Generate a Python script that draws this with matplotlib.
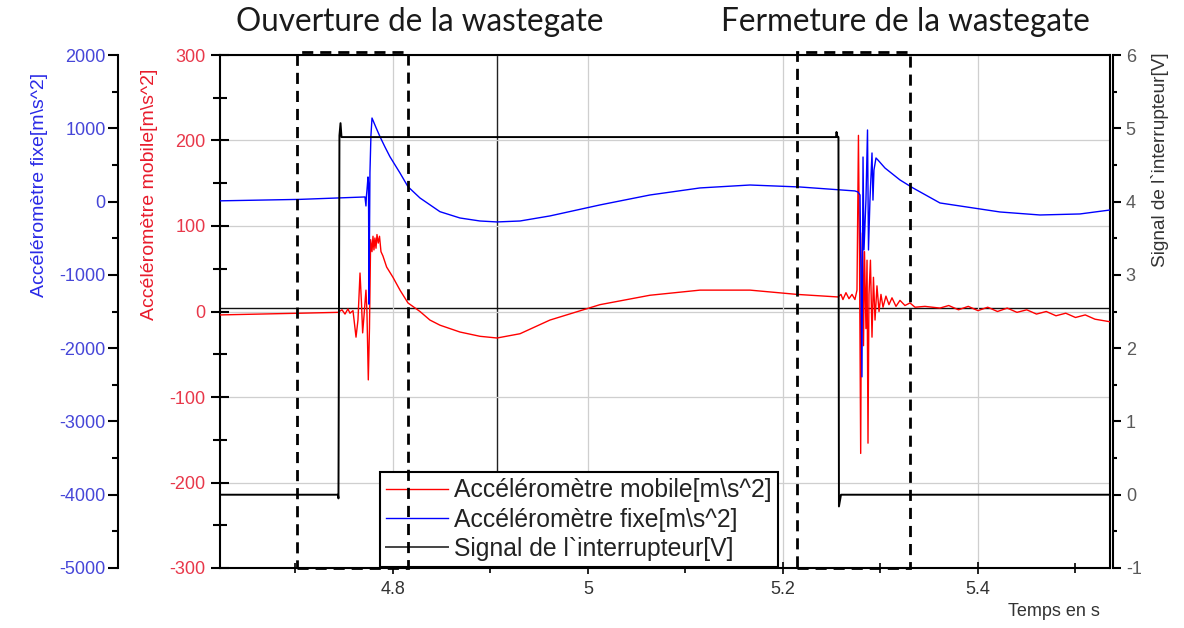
import numpy as np
import matplotlib.pyplot as plt
from matplotlib.patches import Rectangle
from matplotlib.ticker import MultipleLocator
from matplotlib.lines import Line2D

plt.rcParams['axes.unicode_minus'] = False

# -----------------------------
# Data
# -----------------------------
# mobile accelerometer [m/s^2] (red, left inner axis)
t_mobile = [4.6226, 4.6636, 4.7046, 4.7436, 4.7477, 4.7508, 4.7538, 4.7559, 4.7590,
            4.7621, 4.7641, 4.7662, 4.7677, 4.7689, 4.7703, 4.7723, 4.7733, 4.7747,
            4.7759, 4.7771, 4.7785, 4.7795, 4.7805, 4.7815, 4.7826, 4.7836, 4.7849,
            4.7862, 4.7877, 4.7897, 4.7935, 4.8000, 4.8072, 4.8154, 4.8277, 4.8379,
            4.8482, 4.8687, 4.8892, 4.9067, 4.9303, 4.9610, 5.0123, 5.0636, 5.1149,
            5.1662, 5.2144, 5.2564, 5.2595, 5.2615, 5.2646, 5.2677, 5.2708, 5.2738,
            5.2759, 5.2774, 5.2785, 5.2797, 5.2805, 5.2815, 5.2826, 5.2836, 5.2851,
            5.2862, 5.2872, 5.2882, 5.2897, 5.2913, 5.2928, 5.2944, 5.2964, 5.2985,
            5.3005, 5.3026, 5.3056, 5.3087, 5.3118, 5.3159, 5.3200, 5.3251, 5.3303,
            5.3354, 5.3456, 5.3610, 5.3700, 5.3800, 5.3900, 5.4000, 5.4100, 5.4200,
            5.4300, 5.4400, 5.4500, 5.4600, 5.4700, 5.4800, 5.4900, 5.5000, 5.5100,
            5.5200, 5.5354]
a_mobile = [-4, -3, -2, -1, 2, -3, 3, -2, 1,
            -30, -10, 45, 10, -25, -5, 25, 0, -80,
            -20, 84, 70, 88, 72, 86, 74, 90, 80,
            88, 70, 65, 52, 40, 25, 10, 0, -10,
            -16, -24, -29, -31, -26, -10, 8, 19, 25,
            25, 20, 17, 20, 14, 22, 15, 20, 14,
            25, 206, 60, -166, 40, 92, -40, 70, -20,
            60, -154, 20, 60, -30, 40, -10, 30, 0,
            20, 5, 18, 8, 16, 6, 13, 7, 10,
            5, 6, 4, 7, 2, 6, 1, 5, 0,
            4, -1, 2, -3, 0, -5, -2, -7, -4,
            -9, -12]

# fixed accelerometer [m/s^2] (blue, left outer axis)
t_fixe = [4.6226, 4.7046, 4.7713, 4.7723, 4.7728, 4.7733, 4.7744, 4.7749, 4.7754,
          4.7764, 4.7774, 4.7785, 4.7826, 4.7867, 4.7918, 4.7969, 4.8072, 4.8154,
          4.8277, 4.8482, 4.8687, 4.8892, 4.9067, 4.9303, 4.9610, 5.0123, 5.0636,
          5.1149, 5.1662, 5.2174, 5.2738, 5.2769, 5.2790, 5.2800, 5.2810, 5.2821,
          5.2831, 5.2851, 5.2867, 5.2877, 5.2892, 5.2913, 5.2923, 5.2933, 5.2954,
          5.2974, 5.3046, 5.3200, 5.3333, 5.3610, 5.3815, 5.4226, 5.4636, 5.5046,
          5.5354]
a_fixe = [10, 30, 63, -60, 80, 150, 336, 250, -1400,
          400, 900, 1140, 1010, 885, 745, 612, 390, 203,
          49, -138, -224, -265, -278, -265, -196, -46, 90,
          186, 226, 199, 145, 131, 90, -1070, -2392, 608,
          -660, 22, 977, -660, 20, 663, 20, 430, 595,
          567, 458, 295, 186, -19, -60, -142, -183, -169,
          -115]

# switch signal [V] (black, right axis)
t_switch = [4.6226, 4.7436, 4.7441, 4.7451, 4.7462, 4.7472, 5.2544, 5.2549,
            5.2559, 5.2569, 5.2574, 5.2595, 5.5354]
v_switch = [0, 0, -0.05, 4.9, 5.07, 4.88, 4.88, 4.95,
            4.88, 4.88, -0.16, 0, 0]

cursor_t = 4.9067
cursor_mobile = 4

boxes = [(4.7015, 4.8154), (5.2144, 5.3303)]
box_titles = ["Ouverture de la wastegate", "Fermeture de la wastegate"]
title_x = [420, 905]  # pixel centres of the titles

# -----------------------------
# Figure
# -----------------------------
W, H = 1184, 628
fig = plt.figure(figsize=(W / 100, H / 100), dpi=100)
fig.patch.set_facecolor('white')

x0, x1, y0, y1 = 220, 1110, 55, 568
ax = fig.add_axes([x0 / W, 1 - y1 / H, (x1 - x0) / W, (y1 - y0) / H])
ax_b = ax.twinx()
ax_s = ax.twinx()

sans = ['Liberation Sans', 'DejaVu Sans']
narrow = ['Liberation Sans Narrow', 'Liberation Sans', 'DejaVu Sans']
red_c, blue_c = '#ff0000', '#0000ff'
red_t, blue_t, gray_t = '#e8384a', '#4646d8', '#5a5a5a'

# red axis
ax.plot(t_mobile, a_mobile, color=red_c, lw=1.0, zorder=3)
ax.set_xlim(4.6226, 5.5354)
ax.set_ylim(-300, 300)
ax.xaxis.set_major_locator(MultipleLocator(0.2))
ax.xaxis.set_minor_locator(MultipleLocator(0.1))
ax.yaxis.set_major_locator(MultipleLocator(100))
ax.yaxis.set_minor_locator(MultipleLocator(50))
ax.xaxis.set_major_formatter(plt.FuncFormatter(lambda v, p: f"{v:g}"))
ax.grid(True, which='major', color='#cfcfcf', lw=0.9, zorder=0)
ax.axvline(cursor_t, color='#222222', lw=1.0, zorder=1)
ax.axhline(cursor_mobile, color='#111111', lw=1.0, zorder=1)
ax.tick_params(axis='y', which='major', direction='inout', length=13, width=1.5,
               pad=4, labelsize=13, labelcolor=red_t)
ax.tick_params(axis='y', which='minor', direction='inout', length=10, width=1.5)
ax.tick_params(axis='x', which='major', direction='inout', length=9, width=1.2,
               pad=5, labelsize=13)
ax.tick_params(axis='x', which='minor', direction='inout', length=7, width=1.2)
for lab in ax.get_yticklabels():
    lab.set_family(sans)
for lab in ax.get_xticklabels():
    lab.set_family(narrow)
    lab.set_color('#333333')
for s in ax.spines.values():
    s.set_linewidth(1.5)

# blue axis, offset to the left
ax_b.plot(t_fixe, a_fixe, color=blue_c, lw=1.0)
ax_b.set_ylim(-5000, 2000)
ax_b.yaxis.set_ticks_position('left')
ax_b.yaxis.set_label_position('left')
ax_b.spines['left'].set_position(('axes', (118 - x0) / (x1 - x0)))
ax_b.spines['left'].set_visible(True)
ax_b.spines['left'].set_linewidth(1.5)
for k in ['right', 'top', 'bottom']:
    ax_b.spines[k].set_visible(False)
ax_b.yaxis.set_major_locator(MultipleLocator(1000))
ax_b.yaxis.set_minor_locator(MultipleLocator(500))
ax_b.tick_params(axis='y', which='major', direction='out', length=7, width=1.5,
                 pad=2, labelsize=13, labelcolor=blue_t)
ax_b.tick_params(axis='y', which='minor', direction='out', length=4, width=1.5)
for lab in ax_b.get_yticklabels():
    lab.set_family(sans)

# switch axis on the right
ax_s.plot(t_switch, v_switch, color='black', lw=1.4)
ax_s.set_ylim(-1, 6)
ax_s.spines['right'].set_position(('axes', 1.0037))
ax_s.spines['right'].set_linewidth(1.5)
for k in ['left', 'top', 'bottom']:
    ax_s.spines[k].set_visible(False)
ax_s.yaxis.set_major_locator(MultipleLocator(1))
ax_s.yaxis.set_minor_locator(MultipleLocator(0.5))
ax_s.tick_params(axis='y', which='major', direction='out', length=6, width=1.5,
                 pad=3, labelsize=13, labelcolor=gray_t)
ax_s.tick_params(axis='y', which='minor', direction='out', length=3, width=1.5)
for lab in ax_s.get_yticklabels():
    lab.set_family(sans)

# axis labels
fig.text(40 / W, 1 - 185 / H, "Accéléromètre fixe[m\\s^2]", rotation=90,
         ha='center', va='center', color='#2a2ae6', fontsize=14, family=sans)
fig.text(149 / W, 1 - 194 / H, "Accéléromètre mobile[m\\s^2]", rotation=90,
         ha='center', va='center', color='#e81c2c', fontsize=14, family=sans)
fig.text(1160 / W, 1 - 52 / H, "Signal de l`interrupteur[V]", rotation=90,
         ha='center', va='top', color='#333333', fontsize=13.7, family=sans)
fig.text(1100 / W, 1 - 612 / H, "Temps en s", ha='right', va='center',
         color='#333333', fontsize=13, family=narrow)

# legend
handles = [Line2D([], [], color=red_c, lw=1.0),
           Line2D([], [], color=blue_c, lw=1.0),
           Line2D([], [], color='#444444', lw=1.4)]
labels = ["Accéléromètre mobile[m\\s^2]", "Accéléromètre fixe[m\\s^2]",
          "Signal de l`interrupteur[V]"]
leg = ax_s.legend(handles, labels, loc='upper left',
                  bbox_to_anchor=(380 / W, 1 - 472 / H), bbox_transform=fig.transFigure,
                  borderaxespad=0, fancybox=False, framealpha=1, edgecolor='black',
                  prop={'family': sans, 'size': 17.8}, handlelength=2.5,
                  handletextpad=0.25, labelspacing=0.22, borderpad=0.25)
leg.get_frame().set_linewidth(1.5)
for txt in leg.get_texts():
    txt.set_color('#222222')

# dashed boxes and titles
for (ta, tb), title, xc in zip(boxes, box_titles, title_x):
    rect = Rectangle((ta, -300), tb - ta, 603.5, transform=ax.transData, fill=False,
                     ls=(0, (4, 2.5)), lw=2.0, ec='black', clip_on=False)
    fig.add_artist(rect)
    fig.text(xc / W, 1 - 22 / H, title, ha='center', va='center',
             fontsize=22.7, family=['Lato', 'DejaVu Sans'], color='#1a1a1a')

fig.savefig('out.png', dpi=100)
